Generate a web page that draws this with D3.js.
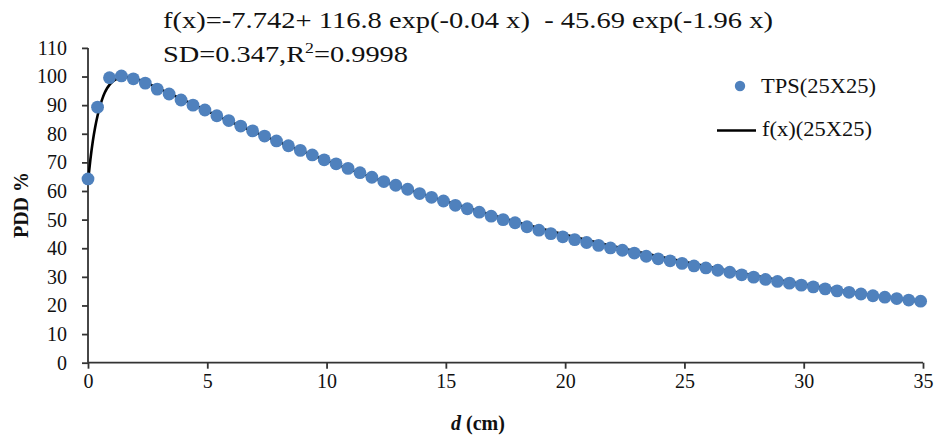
<!DOCTYPE html>
<html lang="en">
<head>
<meta charset="utf-8">
<script src="https://cdn.jsdelivr.net/npm/d3@7"></script>
<style>
  body{margin:0;background:#fff;}
  text{font-family:"Liberation Serif","Times New Roman",serif;fill:#111;}
  .axis path,.axis line{stroke:#333;stroke-width:1.8px;}
  .axis text{font-size:20px;fill:#111;}
</style>
</head>
<body>
<svg id="chart" width="935" height="439"></svg>
<script>
// TPS measured points (25X25)
var tpsX=[0,0.4,0.9,1.4,1.9,2.4,2.9,3.4,3.9,4.4,4.9,5.4,5.9,6.4,6.9,7.4,7.9,8.4,8.9,9.4,9.9,
  10.4,10.9,11.4,11.9,12.4,12.9,13.4,13.9,14.4,14.9,15.4,15.9,16.4,16.9,17.4,17.9,18.4,18.9,19.4,19.9,
  20.4,20.9,21.4,21.9,22.4,22.9,23.4,23.9,24.4,24.9,25.4,25.9,26.4,26.9,27.4,27.9,28.4,28.9,29.4,29.9,
  30.4,30.9,31.4,31.9,32.4,32.9,33.4,33.9,34.4,34.9];
var tpsY=[64.2,89.3,99.6,100.2,99.2,97.7,95.6,93.9,91.8,90.0,88.3,86.3,84.6,82.7,81.0,79.2,77.5,75.8,74.2,72.6,70.9,
  69.5,67.9,66.4,64.8,63.3,62.0,60.6,59.1,57.8,56.5,55.0,53.8,52.6,51.2,50.0,48.9,47.5,46.3,45.1,44.0,
  43.0,42.0,41.0,40.1,39.3,38.3,37.2,36.3,35.6,34.7,33.8,33.1,32.3,31.6,30.7,29.9,29.1,28.4,27.8,27.1,
  26.5,25.8,25.1,24.6,24.0,23.4,22.9,22.4,21.9,21.5];

// fitted curve f(x)
var fitX=[0,0.1,0.2,0.3,0.4,0.5,0.6,0.7,0.8,0.9,1.0,1.2,1.4,1.7,2,2.5,3,4,5,6,8,10,12,15,18,21,24,27,30,33,35];
var fitY=[63.4,71.0,77.3,82.3,86.3,89.6,92.2,94.3,95.9,97.1,98.0,99.2,99.8,99.8,99.2,97.6,95.7,91.8,87.9,84.1,
  77.1,70.6,64.5,56.4,49.1,42.7,37.0,31.9,27.4,23.5,21.1];

var xTicks=[0,5,10,15,20,25,30,35];
var yTicks=[0,10,20,30,40,50,60,70,80,90,100,110];

var legendNames=["TPS(25X25)","f(x)(25X25)"];
var titleLine1="f(x)=-7.742+ 116.8 exp(-0.04 x)  - 45.69 exp(-1.96 x)";

var svg=d3.select("#chart");

var x=d3.scaleLinear().domain([0,35]).range([88,923]);
var y=d3.scaleLinear().domain([0,110]).range([362.7,47.9]);

// axes
var gx=svg.append("g")
  .attr("class","axis")
  .attr("transform","translate(0,"+y(0)+")")
  .call(d3.axisBottom(x).tickValues(xTicks).tickSizeInner(6).tickSizeOuter(0).tickPadding(5));
gx.select("path").attr("d","M"+x(0)+",0H"+x(35));

var gy=svg.append("g")
  .attr("class","axis")
  .attr("transform","translate("+x(0)+",0)")
  .call(d3.axisLeft(y).tickValues(yTicks).tickSizeInner(6).tickSizeOuter(0).tickPadding(15));
gy.select("path").attr("d","M0,"+y(0)+"V"+y(110));

svg.selectAll(".axis")
  .attr("font-family","Liberation Serif, Times New Roman, serif")
  .attr("font-size",20);

// fitted line
var line=d3.line()
  .x(function(d,i){return x(fitX[i]);})
  .y(function(d,i){return y(d);})
  .curve(d3.curveMonotoneX);

svg.append("path")
  .datum(fitY)
  .attr("d",line)
  .attr("fill","none")
  .attr("stroke","#000")
  .attr("stroke-width",2.6);

// points
svg.append("g")
  .selectAll("circle")
  .data(tpsY)
  .enter()
  .append("circle")
  .attr("cx",function(d,i){return x(tpsX[i]);})
  .attr("cy",function(d){return y(d);})
  .attr("r",6.4)
  .attr("fill","#4F81BD");

// titles
svg.append("text")
  .attr("x",163).attr("y",28)
  .style("font-size","24px")
  .attr("textLength",610).attr("lengthAdjust","spacingAndGlyphs")
  .style("white-space","pre")
  .text(titleLine1);

var t2=svg.append("text")
  .attr("x",163).attr("y",62)
  .style("font-size","24px")
  .attr("textLength",245).attr("lengthAdjust","spacingAndGlyphs");
t2.append("tspan").text("SD=0.347,R");
t2.append("tspan").attr("dy",-9).style("font-size","15px").text("2");
t2.append("tspan").attr("dy",9).text("=0.9998");

// legend
svg.append("circle").attr("cx",740).attr("cy",86).attr("r",5.2).attr("fill","#4F81BD");
svg.append("text").attr("x",761).attr("y",93).style("font-size","21px")
  .attr("textLength",115).attr("lengthAdjust","spacingAndGlyphs").text(legendNames[0]);
svg.append("line").attr("x1",717).attr("x2",756).attr("y1",130.5).attr("y2",130.5)
  .attr("stroke","#000").attr("stroke-width",2.6);
svg.append("text").attr("x",762).attr("y",136).style("font-size","21px")
  .attr("textLength",110).attr("lengthAdjust","spacingAndGlyphs").text(legendNames[1]);

// axis labels
svg.append("text")
  .attr("transform","translate(28,205) rotate(-90)")
  .attr("text-anchor","middle")
  .style("font-size","20px").style("font-weight","bold")
  .text("PDD %");

var xl=svg.append("text")
  .attr("x",478).attr("y",430)
  .attr("text-anchor","middle")
  .style("font-size","20px").style("font-weight","bold");
xl.append("tspan").style("font-style","italic").text("d");
xl.append("tspan").text(" (cm)");
</script>
</body>
</html>
